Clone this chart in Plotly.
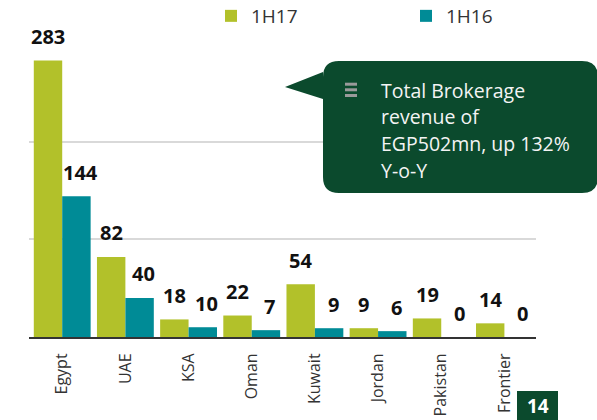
import plotly.graph_objects as go

# Brokerage revenue by market (EGP mn)
markets = ["Egypt", "UAE", "KSA", "Oman", "Kuwait", "Jordan", "Pakistan", "Frontier"]
rev_1h17 = [283, 82, 18, 22, 54, 9, 19, 14]
rev_1h16 = [144, 40, 10, 7, 9, 6, 0, 0]
series_names = ["1H17", "1H16"]

GREEN = "#b2c12a"
TEAL = "#008b96"
DARK = "#0b4a2d"
FONT = "Open Sans"

W, H = 597, 420
L, R, T, B = 29, 536, 44, 337  # plot area in pixels


def px(x):
    return (x - L) / (R - L)


def py(y):
    return (B - y) / (B - T)


fig = go.Figure()
fig.add_trace(go.Bar(x=markets, y=rev_1h17, name=series_names[0], marker_color=GREEN,
                     marker_line_width=0))
fig.add_trace(go.Bar(x=markets, y=rev_1h16, name=series_names[1], marker_color=TEAL,
                     marker_line_width=0))

# value labels above each bar
annotations = []
half = 0.225
for i, (a, b) in enumerate(zip(rev_1h17, rev_1h16)):
    for val, dx, xs in ((a, -half, 0), (b, half, 4)):
        annotations.append(dict(
            x=i + dx, y=val, xref="x", yref="y", text=f"<b>{val}</b>",
            showarrow=False, yanchor="middle", yshift=24, xshift=xs,
            font=dict(family=FONT, size=20, color="#111111")))

# callout text
callout_lines = ["Total Brokerage", "revenue of", "EGP502mn, up 132%", "Y-o-Y"]
for k, line in enumerate(callout_lines):
    annotations.append(dict(
        x=px(379), y=py(90 + k * 26.7), xref="paper", yref="paper", text=line,
        showarrow=False, xanchor="left", yanchor="middle",
        font=dict(family=FONT, size=19.5, color="#f4f4f4")))

# page number
annotations.append(dict(
    x=px(537.5), y=py(406), xref="paper", yref="paper", text="<b>14</b>",
    showarrow=False, xanchor="center", yanchor="middle",
    font=dict(family=FONT, size=19, color="#ffffff")))


def callout_path(l, t, r, b, rad, tip, bt, bb):
    pts = [
        ("M", (l + rad, t)), ("L", (r - rad, t)), ("Q", (r, t), (r, t + rad)),
        ("L", (r, b - rad)), ("Q", (r, b), (r - rad, b)), ("L", (l + rad, b)),
        ("Q", (l, b), (l, b - rad)), ("L", (l, bb)), ("L", tip), ("L", (l, bt)),
        ("L", (l, t + rad)), ("Q", (l, t), (l + rad, t)),
    ]
    out = []
    for item in pts:
        cmd = item[0]
        coords = " ".join(f"{px(x):.5f},{py(y):.5f}" for x, y in item[1:])
        out.append(f"{cmd} {coords}")
    return " ".join(out) + " Z"


shapes = [
    dict(type="path", xref="paper", yref="paper", layer="above",
         path=callout_path(323, 61, 598, 193, 16, (285, 87), 72, 99),
         fillcolor=DARK, line=dict(width=0)),
    dict(type="rect", xref="paper", yref="paper", layer="above",
         x0=px(517), x1=px(558), y0=py(391), y1=py(421),
         fillcolor=DARK, line=dict(width=0)),
]
# list icon inside the callout
for yb in (82.7, 88.3, 94.0):
    shapes.append(dict(type="rect", xref="paper", yref="paper", layer="above",
                       x0=px(345), x1=px(357), y0=py(yb), y1=py(yb + 3),
                       fillcolor="#9a9a9a", line=dict(width=0)))

fig.update_layout(
    width=W, height=H,
    margin=dict(l=L, r=W - R, t=T, b=H - B, pad=0, autoexpand=False),
    paper_bgcolor="white", plot_bgcolor="white",
    barmode="group", bargap=0.1, bargroupgap=0,
    font=dict(family=FONT, color="#333333"),
    showlegend=True,
    legend=dict(orientation="h", x=px(211), y=py(16), xanchor="left", yanchor="middle",
                entrywidth=150, entrywidthmode="pixels", itemwidth=30,
                font=dict(family=FONT, size=19, color="#333333"),
                bgcolor="rgba(0,0,0,0)"),
    xaxis=dict(showline=True, linecolor="#333333", linewidth=2, ticks="",
               tickangle=-90, tickfont=dict(family=FONT, size=16, color="#333333"),
               ticklabelstandoff=8, showgrid=False, fixedrange=True, automargin=False),
    yaxis=dict(range=[0, 300], dtick=100, showticklabels=False, showgrid=True,
               gridcolor="#d9d9d9", gridwidth=2, zeroline=False, ticks="",
               fixedrange=True, automargin=False),
    annotations=annotations,
    shapes=shapes,
)

fig.write_html("out.html")
